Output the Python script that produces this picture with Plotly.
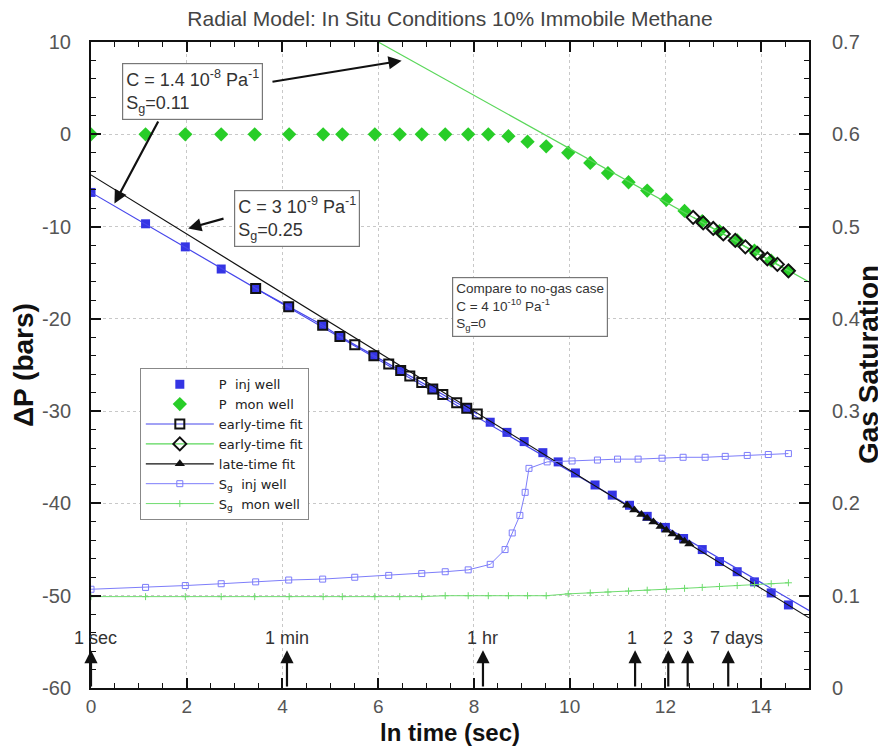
import math
import plotly.graph_objects as go

# ---------------- data ----------------
ln_t_inj = [0.00, 1.14, 1.97, 2.72, 3.44, 4.13, 4.84, 5.20, 5.91, 6.47,
            7.14, 7.85, 8.34, 8.69, 9.05, 9.44, 9.76, 10.12, 10.53, 10.89,
            11.25, 11.62, 12.00, 12.38, 12.77, 13.13, 13.50, 13.86, 14.21, 14.57]
dp_inj = [-6.3, -9.7, -12.2, -14.6, -16.7, -18.7, -20.7, -21.9, -24.0, -25.6,
          -27.6, -29.7, -31.2, -32.3, -33.3, -34.5, -35.5, -36.7, -38.0, -39.1,
          -40.2, -41.4, -42.6, -43.8, -45.0, -46.3, -47.4, -48.5, -49.7, -51.0]

ln_t_mon = [0.00, 1.14, 1.97, 2.72, 3.42, 4.14, 4.85, 5.25, 5.93, 6.45,
            6.91, 7.40, 7.88, 8.30, 8.72, 9.12, 9.51, 9.97, 10.43, 10.80,
            11.23, 11.62, 12.02, 12.40, 12.77, 13.13, 13.50, 13.86, 14.21, 14.57]
dp_mon = [0.0, 0.0, 0.0, 0.0, 0.0, 0.0, 0.0, 0.0, 0.0, 0.0,
          0.0, 0.0, 0.0, 0.0, -0.2, -0.8, -1.3, -2.0, -3.1, -4.2,
          -5.2, -6.1, -7.1, -8.3, -9.4, -10.5, -11.5, -12.6, -13.7, -14.8]

# early-time fit, injection well
fit_inj_early_line_x = [0.0, 15.0]
fit_inj_early_line_y = [-6.3, -51.6]
fit_inj_early_pts_x = [3.44, 4.13, 4.84, 5.20, 5.51, 5.91, 6.22, 6.47, 6.66, 6.91,
                       7.14, 7.35, 7.64, 7.85, 8.07]
fit_inj_early_pts_y = [-16.7, -18.7, -20.7, -21.9, -22.8, -24.0, -24.9, -25.6, -26.2, -26.9,
                       -27.6, -28.2, -29.1, -29.7, -30.3]

# early-time fit, monitoring well
fit_mon_early_line_x = [6.0, 15.0]
fit_mon_early_line_y = [10.0, -16.0]
fit_mon_early_pts_x = [12.58, 12.79, 13.00, 13.21, 13.46, 13.67, 13.92, 14.13, 14.34, 14.57]
fit_mon_early_pts_y = [-9.0, -9.6, -10.2, -10.8, -11.5, -12.2, -12.9, -13.5, -14.1, -14.8]

# late-time fit, injection well
fit_late_line_x = [0.0, 15.0]
fit_late_line_y = [-4.4, -52.4]
fit_late_pts_x = [11.20, 11.35, 11.50, 11.62, 11.75, 11.90, 12.02, 12.15, 12.28, 12.40, 12.50]
fit_late_pts_y = [-40.2, -40.7, -41.2, -41.6, -42.0, -42.5, -42.9, -43.3, -43.7, -44.1, -44.4]

# gas saturation
sg_inj_x = [0.00, 1.14, 1.97, 2.72, 3.44, 4.13, 4.84, 5.51, 6.22, 6.91,
            7.40, 7.88, 8.34, 8.65, 8.80, 8.96, 9.07, 9.15, 9.53, 10.05,
            10.58, 11.00, 11.43, 11.93, 12.37, 12.83, 13.25, 13.71, 14.15, 14.57]
sg_inj = [0.107, 0.109, 0.111, 0.113, 0.115, 0.117, 0.118, 0.120, 0.122, 0.124,
          0.126, 0.128, 0.134, 0.150, 0.168, 0.187, 0.212, 0.238, 0.245, 0.246,
          0.247, 0.248, 0.248, 0.249, 0.250, 0.250, 0.251, 0.252, 0.253, 0.254]
sg_mon = [0.099, 0.099, 0.099, 0.099, 0.099, 0.099, 0.099, 0.099, 0.099, 0.099,
          0.099, 0.100, 0.100, 0.100, 0.100, 0.100, 0.100, 0.102, 0.103, 0.104,
          0.105, 0.106, 0.107, 0.108, 0.109, 0.110, 0.111, 0.112, 0.113, 0.114]

# time markers along the bottom
time_labels = ["1 sec", "1 min", "1 hr", "1", "2", "3", "7 days"]
time_seconds = [1, 60, 3600, 86400, 172800, 259200, 604800]
time_label_shift = [4, 0, 0, -3, 0, 0, 8]

y_ticks = [10, 0, -10, -20, -30, -40, -50, -60]
y_ticktext = ["10", "0", "-10", "-20", "-30", "-40", "-50", "-60"]
y2_ticks = [0, 0.1, 0.2, 0.3, 0.4, 0.5, 0.6, 0.7]
y2_ticktext = ["0", "0.1", "0.2", "0.3", "0.4", "0.5", "0.6", "0.7"]
x_ticks = [0, 2, 4, 6, 8, 10, 12, 14]

# ---------------- styles ----------------
FONT = "Liberation Sans, Arial, Helvetica, sans-serif"
LEG_FONT = "DejaVu Sans, Liberation Sans, sans-serif"
BLUE = "rgb(52,52,228)"
BLUE_LINE = "rgb(70,70,235)"
GREEN = "rgb(40,205,40)"
GREEN_LINE = "rgb(90,215,90)"
LBLUE = "rgb(125,125,250)"
LGREEN = "rgb(110,220,110)"
TXT = "#333333"
TICK_TXT = "#555555"

fig = go.Figure()

# saturation curves (right axis)
fig.add_trace(go.Scatter(x=ln_t_mon, y=sg_mon, yaxis="y2", mode="lines+markers",
                         name="S<sub>g</sub>\u00a0\u00a0mon well", legendrank=7,
                         line=dict(color=LGREEN, width=1),
                         marker=dict(symbol="cross-thin", size=5, color=LGREEN,
                                     line=dict(color=LGREEN, width=1))))
fig.add_trace(go.Scatter(x=sg_inj_x, y=sg_inj, yaxis="y2", mode="lines+markers",
                         name="S<sub>g</sub>\u00a0\u00a0inj well", legendrank=6,
                         line=dict(color=LBLUE, width=1),
                         marker=dict(symbol="square-open", size=6, color=LBLUE,
                                     line=dict(width=1))))

# pressure data
fig.add_trace(go.Scatter(x=ln_t_mon, y=dp_mon, mode="markers",
                         name="P\u00a0\u00a0mon well", legendrank=2,
                         marker=dict(symbol="diamond", size=11, color=GREEN)))
fig.add_trace(go.Scatter(x=ln_t_inj, y=dp_inj, mode="markers",
                         name="P\u00a0\u00a0inj well", legendrank=1,
                         marker=dict(symbol="square", size=9, color=BLUE)))

# fit lines (full extent)
fig.add_trace(go.Scatter(x=fit_inj_early_line_x, y=fit_inj_early_line_y, mode="lines",
                         showlegend=False, line=dict(color=BLUE_LINE, width=1.2)))
fig.add_trace(go.Scatter(x=fit_mon_early_line_x, y=fit_mon_early_line_y, mode="lines",
                         showlegend=False, line=dict(color=GREEN_LINE, width=1.2)))
fig.add_trace(go.Scatter(x=fit_late_line_x, y=fit_late_line_y, mode="lines",
                         showlegend=False, line=dict(color="#111111", width=1.2)))

# fit points
fig.add_trace(go.Scatter(x=fit_inj_early_pts_x, y=fit_inj_early_pts_y, mode="lines+markers",
                         name="early-time fit", legendrank=3,
                         line=dict(color=BLUE_LINE, width=1.2),
                         marker=dict(symbol="square-open", size=9, color="#111111",
                                     line=dict(width=2))))
fig.add_trace(go.Scatter(x=fit_mon_early_pts_x, y=fit_mon_early_pts_y, mode="lines+markers",
                         name="early-time fit", legendrank=4,
                         line=dict(color=GREEN_LINE, width=1.2),
                         marker=dict(symbol="diamond-open", size=10, color="#111111",
                                     line=dict(width=2))))
fig.add_trace(go.Scatter(x=fit_late_pts_x, y=fit_late_pts_y, mode="lines+markers",
                         name="late-time fit", legendrank=5,
                         line=dict(color="#111111", width=1.2),
                         marker=dict(symbol="triangle-up", size=9, color="#111111")))

annotations = []

# text boxes
box_style = dict(xref="x", yref="y", showarrow=False, align="left",
                 xanchor="left", yanchor="top", bgcolor="white",
                 bordercolor="#777777", borderwidth=1.2, borderpad=3,
                 font=dict(family=FONT, size=18, color=TXT))
annotations.append(dict(x=0.64, y=7.7,
                        text="C = 1.4 10<sup>-8</sup> Pa<sup>-1</sup><br>S<sub>g</sub>=0.11",
                        **box_style))
annotations.append(dict(x=2.98, y=-6.0,
                        text="C = 3 10<sup>-9</sup> Pa<sup>-1</sup><br>S<sub>g</sub>=0.25",
                        **box_style))
b3 = dict(box_style)
b3["font"] = dict(family=FONT, size=13.5, color=TXT)
annotations.append(dict(x=7.54, y=-15.45,
                        text="Compare to no-gas case<br>C = 4 10<sup>-10</sup> Pa<sup>-1</sup><br>S<sub>g</sub>=0",
                        **b3))

# arrows from the boxes
arrow_style = dict(xref="x", yref="y", axref="x", ayref="y", text="", showarrow=True,
                   arrowhead=2, arrowsize=1.2, arrowwidth=2.2, arrowcolor="#111111",
                   standoff=0, startstandoff=0)
annotations.append(dict(x=6.49, y=7.97, ax=3.76, ay=5.67, **arrow_style))
annotations.append(dict(x=0.49, y=-7.5, ax=1.42, ay=1.55, **arrow_style))
annotations.append(dict(x=2.03, y=-10.2, ax=2.80, ay=-9.1, **arrow_style))

# time arrows along the bottom
for lab, sec, sh in zip(time_labels, time_seconds, time_label_shift):
    lt = math.log(sec)
    annotations.append(dict(x=lt, y=-55.9, ax=lt, ay=-60.0, **arrow_style))
    annotations.append(dict(x=lt, y=-54.6, xref="x", yref="y", text=lab, showarrow=False,
                            xanchor="center", yanchor="middle", xshift=sh,
                            font=dict(family=FONT, size=18, color=TXT)))

# axis titles
annotations.append(dict(x=0.5, y=0, xref="paper", yref="paper", yshift=-44,
                        text="<b>ln time (sec)</b>", showarrow=False,
                        xanchor="center", yanchor="middle",
                        font=dict(family=FONT, size=24, color="#111111")))
annotations.append(dict(x=0, y=0.5, xref="paper", yref="paper", xshift=-68,
                        text="<b>\u0394P (bars)</b>", showarrow=False, textangle=-90,
                        xanchor="center", yanchor="middle",
                        font=dict(family=FONT, size=28, color="#111111")))
annotations.append(dict(x=1, y=0.5, xref="paper", yref="paper", xshift=59,
                        text="<b>Gas Saturation</b>", showarrow=False, textangle=-90,
                        xanchor="center", yanchor="middle",
                        font=dict(family=FONT, size=28, color="#111111")))

grid = dict(showgrid=True, gridcolor="#c8c8c8", griddash="dot", gridwidth=1)

# page body has an 8px margin, so the figure is 8px smaller on each axis
fig.update_layout(
    width=878, height=743,
    margin=dict(l=83, r=77, t=34, b=63),
    paper_bgcolor="white", plot_bgcolor="white",
    font=dict(family=FONT, color=TXT),
    title=dict(text="Radial Model: In Situ Conditions 10% Immobile Methane",
               x=0.5, xref="paper", y=1 - 11 / 743, yref="container",
               xanchor="center", yanchor="middle",
               font=dict(family=FONT, size=21, color="#444444")),
    showlegend=True,
    legend=dict(x=0.068, y=0.495, xanchor="left", yanchor="top",
                bgcolor="white", bordercolor="#888888", borderwidth=1,
                font=dict(family=LEG_FONT, size=13, color="#222222"),
                itemwidth=68, traceorder="normal", tracegroupgap=0),
    xaxis=dict(range=[0, 15], tickvals=x_ticks, ticks="inside", ticklen=10, tickwidth=2,
               tickcolor="#111111", showline=True, linecolor="#111111", linewidth=2,
               mirror="ticks", zeroline=False,
               minor=dict(dtick=0.5, ticks="inside", ticklen=5, tickwidth=1,
                          tickcolor="#111111", showgrid=False),
               ticklabelstandoff=0,
               tickfont=dict(family=FONT, size=19, color=TICK_TXT),
               **grid),
    yaxis=dict(range=[-60, 10], tickvals=y_ticks, ticktext=y_ticktext,
               ticks="inside", ticklen=10, tickwidth=2, tickcolor="#111111",
               showline=True, linecolor="#111111", linewidth=2, zeroline=False,
               minor=dict(dtick=2, ticks="inside", ticklen=5, tickwidth=1,
                          tickcolor="#111111", showgrid=False),
               ticklabelstandoff=14,
               tickfont=dict(family=FONT, size=20, color=TICK_TXT),
               **grid),
    yaxis2=dict(range=[0, 0.7], overlaying="y", side="right",
                tickvals=y2_ticks, ticktext=y2_ticktext,
                ticks="inside", ticklen=10, tickwidth=2, tickcolor="#111111",
                showline=True, linecolor="#111111", linewidth=2, zeroline=False,
                showgrid=False,
                minor=dict(dtick=0.02, ticks="inside", ticklen=5, tickwidth=1,
                           tickcolor="#111111", showgrid=False),
                ticklabelstandoff=17,
                tickfont=dict(family=FONT, size=20, color=TICK_TXT)),
    annotations=annotations,
)

fig.write_html("out.html")
